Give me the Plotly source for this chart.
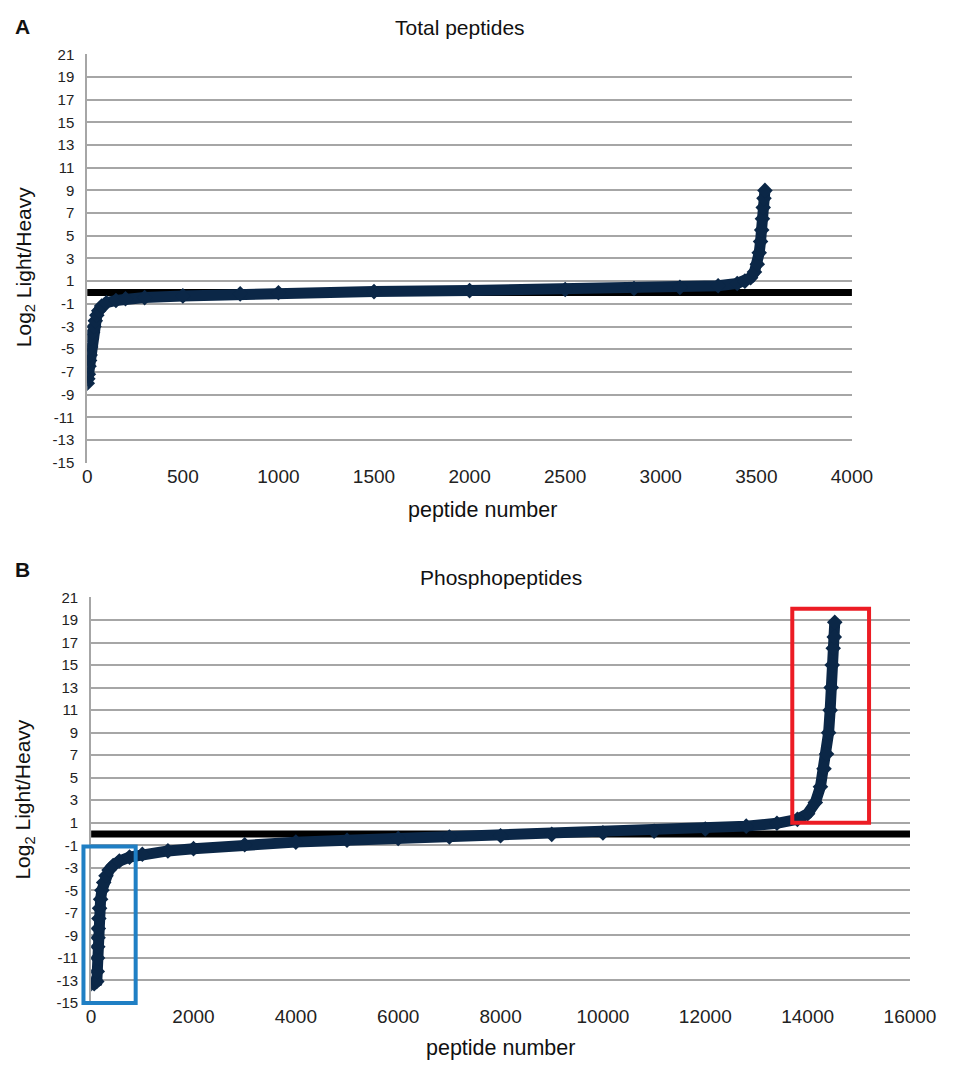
import plotly.graph_objects as go

W, H = 966, 1070

# ---- data (sorted log2 ratios) ----
total_x = [0, 3, 6, 9, 12, 15, 18, 22, 28, 35, 42, 50, 60, 75, 100, 150, 200, 300,
           500, 800, 1000, 1500, 2000, 2500, 2860, 3100, 3300, 3400, 3440, 3470,
           3490, 3505, 3515, 3522, 3528, 3532, 3536, 3540, 3545]
total_y = [-8.0, -7.6, -7.2, -6.5, -6.0, -5.5, -4.8, -4.0, -3.5, -3.0, -2.5, -2.0,
           -1.6, -1.2, -0.9, -0.7, -0.55, -0.45, -0.3, -0.12, -0.02, 0.08, 0.17,
           0.26, 0.35, 0.45, 0.6, 0.8, 1.0, 1.3, 1.8, 2.5, 3.5, 4.5, 5.5, 6.5,
           7.5, 8.3, 9.0]

phos_x = [0, 60, 110, 120, 125, 130, 135, 140, 150, 165, 185, 210, 245, 290, 350,
          430, 550, 750, 1000, 1500, 2000, 3000, 4000, 5000, 6000, 7000, 8000,
          9000, 10000, 11000, 12000, 12800, 13400, 13800, 14000, 14150, 14250,
          14320, 14370, 14410, 14440, 14460, 14480, 14500, 14520, 14530]
phos_y = [-13.3, -13.3, -13.1, -12.2, -11.0, -10.0, -9.2, -8.4, -7.5, -6.6, -5.8,
          -5.0, -4.3, -3.7, -3.2, -2.8, -2.4, -2.05, -1.8, -1.5, -1.3, -0.95,
          -0.72, -0.55, -0.4, -0.27, -0.15, -0.03, 0.1, 0.25, 0.45, 0.7, 0.95,
          1.3, 1.8, 2.8, 4.2, 5.8, 7.1, 9.0, 11.0, 13.0, 15.0, 16.5, 17.5, 18.8]

y_ticks = list(range(-15, 22, 2))
y_ticktext = [str(v) for v in y_ticks]          # plain hyphen minus, as in the original
xA_ticks = [0, 500, 1000, 1500, 2000, 2500, 3000, 3500, 4000]
xB_ticks = [0, 2000, 4000, 6000, 8000, 10000, 12000, 14000, 16000]

# highlight boxes (data units): x0, x1, y0, y1
blue_box = [-150, 870, -15, -1.1]
red_box = [13700, 15200, 1.0, 20.0]

def px_x(p):
    return p / W

def px_y(p):
    return 1 - p / H

# ---- layout geometry (page pixels) ----
A_dom_x = [px_x(85), px_x(875)]
A_dom_y = [px_y(461), px_y(46)]
B_dom_x = [px_x(89), px_x(935)]
B_dom_y = [px_y(1010), px_y(598)]
A_range_x = [0, 4000]
B_range_x = [0, 16000]
range_y = [-15, 21]

NAVY = "#0b2747"
GRID = "#a6a6a6"
FONT = "Liberation Sans, Arial, sans-serif"

fig = go.Figure()
for xs, ys, xa, ya in [(total_x, total_y, "x", "y"), (phos_x, phos_y, "x2", "y2")]:
    fig.add_trace(go.Scatter(
        x=xs, y=ys, xaxis=xa, yaxis=ya, mode="lines+markers",
        line=dict(color=NAVY, width=11),
        marker=dict(symbol="diamond", size=12, color=NAVY),
        showlegend=False, hoverinfo="skip"))

yaxis_common = dict(range=range_y, tickvals=y_ticks, ticktext=y_ticktext, showgrid=True,
                    gridcolor=GRID, gridwidth=2, showline=True, linecolor=GRID, linewidth=2,
                    zeroline=False, ticks="", ticklabelstandoff=8,
                    tickfont=dict(size=15, color="#222", family=FONT), fixedrange=True)
xaxis_common = dict(showgrid=False, zeroline=False, showline=False, ticks="",
                    tickfont=dict(size=19, color="#222", family=FONT), fixedrange=True)

fig.update_layout(
    width=W, height=H, margin=dict(l=0, r=0, t=0, b=0),
    paper_bgcolor="white", plot_bgcolor="white",
    xaxis=dict(domain=A_dom_x, range=A_range_x, tickvals=xA_ticks,
               ticktext=[str(v) for v in xA_ticks], anchor="y", **xaxis_common),
    yaxis=dict(domain=A_dom_y, anchor="x", **yaxis_common),
    xaxis2=dict(domain=B_dom_x, range=B_range_x, tickvals=xB_ticks,
                ticktext=[str(v) for v in xB_ticks], anchor="y2", **xaxis_common),
    yaxis2=dict(domain=B_dom_y, anchor="x2", **yaxis_common),
)

# zero reference lines
for xr, yr in [("x domain", "y"), ("x2 domain", "y2")]:
    fig.add_shape(type="line", xref=xr, yref=yr, x0=0, x1=1, y0=0, y1=0,
                  line=dict(color="black", width=7), layer="below")

def to_paper(v, rng, dom):
    return dom[0] + (v - rng[0]) / (rng[1] - rng[0]) * (dom[1] - dom[0])

for box, col in [(blue_box, "#1f7fc4"), (red_box, "#ec1c24")]:
    fig.add_shape(type="rect", xref="paper", yref="paper",
                  x0=to_paper(box[0], B_range_x, B_dom_x), x1=to_paper(box[1], B_range_x, B_dom_x),
                  y0=to_paper(box[2], range_y, B_dom_y), y1=to_paper(box[3], range_y, B_dom_y),
                  line=dict(color=col, width=4), fillcolor="rgba(0,0,0,0)", layer="above")

def ann(text, x, y, size, bold=False, angle=0):
    fig.add_annotation(text=f"<b>{text}</b>" if bold else text, x=px_x(x), y=px_y(y),
                       xref="paper", yref="paper", showarrow=False, textangle=angle,
                       font=dict(size=size, color="#111", family=FONT),
                       xanchor="center", yanchor="middle")

ann("A", 18, 18, 21, bold=True)
ann("B", 18, 570, 21, bold=True)
ann("Total peptides", 470, 19, 21)
ann("Phosphopeptides", 512, 578, 21)
ann("peptide number", 493, 509, 21.5)
ann("peptide number", 512, 1056, 21.5)
ann("Log<sub>2</sub> Light/Heavy", 20, 262, 21, angle=-90)
ann("Log<sub>2</sub> Light/Heavy", 20, 803, 21, angle=-90)

fig.write_html(
    "out.html",
    config={"responsive": False, "displayModeBar": False},
    post_script="document.body.style.margin='0';document.body.style.overflow='hidden';"
                "document.documentElement.style.overflow='hidden';",
)
